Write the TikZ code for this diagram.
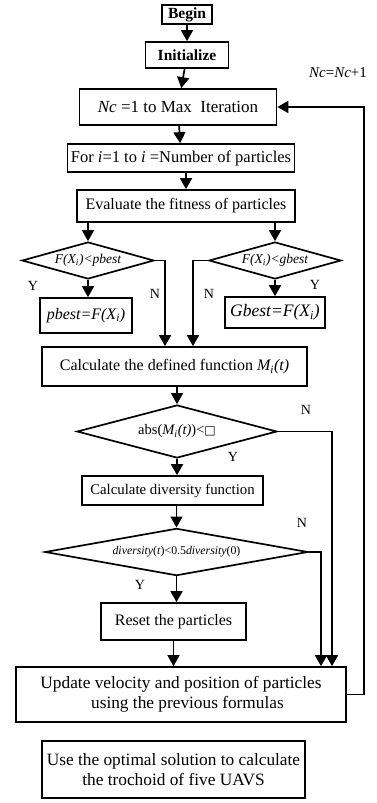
\documentclass[tikz,border=0pt]{standalone}
\usepackage{fontspec}
\setmainfont{Liberation Serif}
\newfontfamily\symfont{DejaVu Sans}
\usetikzlibrary{arrows.meta,shapes.geometric}

\begin{document}
\begin{tikzpicture}[
  x=1pt,y=-1pt,
  font=\fontsize{16}{18}\selectfont,
  box/.style={draw,line width=1.7pt,align=center,inner sep=1pt},
  test/.style={draw,diamond,line width=1.7pt,inner sep=0pt,aspect=3.5},
  lbl/.style={inner sep=0pt,font=\fontsize{14}{15}\selectfont},
  flow/.style={-{Triangle[length=11pt,width=12pt]},line width=1.7pt}
]
\useasboundingbox (0,0) rectangle (376,803);
\node[box,minimum width=50,minimum height=19,font=\fontsize{15.5}{17}\selectfont\bfseries] (begin) at (187,14.5) {Begin};
\node[box,minimum width=83,minimum height=26,font=\fontsize{15.5}{17}\selectfont\bfseries] (init) at (187,55) {Initialize};
\node[box,minimum width=197,minimum height=36,font=\fontsize{17}{19}\selectfont] (nc) at (178,107) {\textit{Nc} =1 to Max\ \ Iteration};
\node[box,minimum width=227,minimum height=28,font=\fontsize{16.5}{18}\selectfont] (fori) at (181,158) {For \textit{i}=1 to \textit{i} =Number of particles};
\node[box,minimum width=218,minimum height=32] (eval) at (186,206) {Evaluate the fitness of particles};

\node[test,minimum width=132,minimum height=37,font=\fontsize{13.5}{15}\selectfont\itshape] (pdia) at (88,260.5) {F(X\textsubscript{i})<pbest};
\node[test,minimum width=132,minimum height=37,font=\fontsize{13.5}{15}\selectfont\itshape] (gdia) at (275,260.5) {F(X\textsubscript{i})<gbest};
\node[box,minimum width=92,minimum height=35,font=\fontsize{16}{18}\selectfont\itshape] (pbest) at (86,315.5) {pbest=F(X\textsubscript{i})};
\node[box,minimum width=100,minimum height=31,font=\fontsize{17.5}{19}\selectfont\itshape] (gbest) at (275,312.5) {Gbest=F(X\textsubscript{i})};

\node[box,minimum width=265,minimum height=39] (calc) at (174.5,366.5) {Calculate the defined function \textit{M\textsubscript{i}(t)}};
\node[test,minimum width=200,minimum height=53,font=\fontsize{14.5}{16}\selectfont] (absd) at (177,431.5) {abs(\textit{M\textsubscript{i}(t)})<{\symfont\fontsize{12}{13}\selectfont □}};
\node[box,minimum width=181,minimum height=29,font=\fontsize{14.8}{17}\selectfont] (divf) at (172.5,490.5) {Calculate diversity function};
\node[test,minimum width=263,minimum height=39,font=\fontsize{11.8}{13}\selectfont] (divd) at (176.5,552) {\textit{diversity}(\textit{t})<0.5\textit{diversity}(0)};
\node[box,minimum width=145,minimum height=37] (reset) at (173.5,621.5) {Reset the particles};
\node[box,minimum width=330,minimum height=55,font=\fontsize{17.3}{20}\selectfont] (upd) at (181,694.5) {Update velocity and position of particles\\\ \ \ using the previous formulas};
\node[box,minimum width=263,minimum height=57,font=\fontsize{17.3}{20}\selectfont] (final) at (173.5,769.5) {Use the optimal solution to calculate\\the trochoid of five UAVS};

\node[inner sep=0pt,font=\fontsize{15}{17}\selectfont] (incr) at (338,73) {\textit{Nc}=\textit{Nc}+1};
\node[lbl] (py) at (33,286) {Y};
\node[lbl] (gy) at (315,285) {Y};
\node[lbl] (pn) at (155,294) {N};
\node[lbl] (gn) at (209,294) {N};
\node[lbl] (an) at (306,410) {N};
\node[lbl] (ay) at (233,457) {Y};
\node[lbl] (dn) at (302,523) {N};
\node[lbl] (dy) at (140,585) {Y};

\draw[flow] (begin) -- (init);
\draw[flow] (init) -- (nc);
\draw[flow] (nc) -- (fori);
\draw[flow] (fori.south -| eval.north) -- (eval.north);
\draw[flow] (pdia.north |- eval.south) -- (pdia.north);
\draw[flow] (gdia.north |- eval.south) -- (gdia.north);
\draw[flow] (pdia.south) -- (pbest.north -| pdia.south);
\draw[flow] (gdia.south) -- (gbest.north);
\draw[flow] (pdia.east) -| ([xshift=-9.5pt]calc.north);
\draw[flow] (gdia.west) -| ([xshift=18.5pt]calc.north);
\draw[flow] (calc.south -| absd.north) -- (absd.north);
\draw[flow] (absd.south) -- (divf.north -| absd.south);
\draw[flow] (divf.south -| divd.north) -- (divd.north);
\draw[flow] (divd.south) -- (reset.north -| divd.south);
\draw[flow] (reset.south) -- (upd.north -| reset.south);
\draw[flow] (absd.east) -| ([xshift=151pt]upd.north);
\draw[flow] (divd.east) -| ([xshift=140pt]upd.north);
\draw[flow] (upd.east) -- ++(17,0) |- (nc.east);
\end{tikzpicture}
\end{document}
